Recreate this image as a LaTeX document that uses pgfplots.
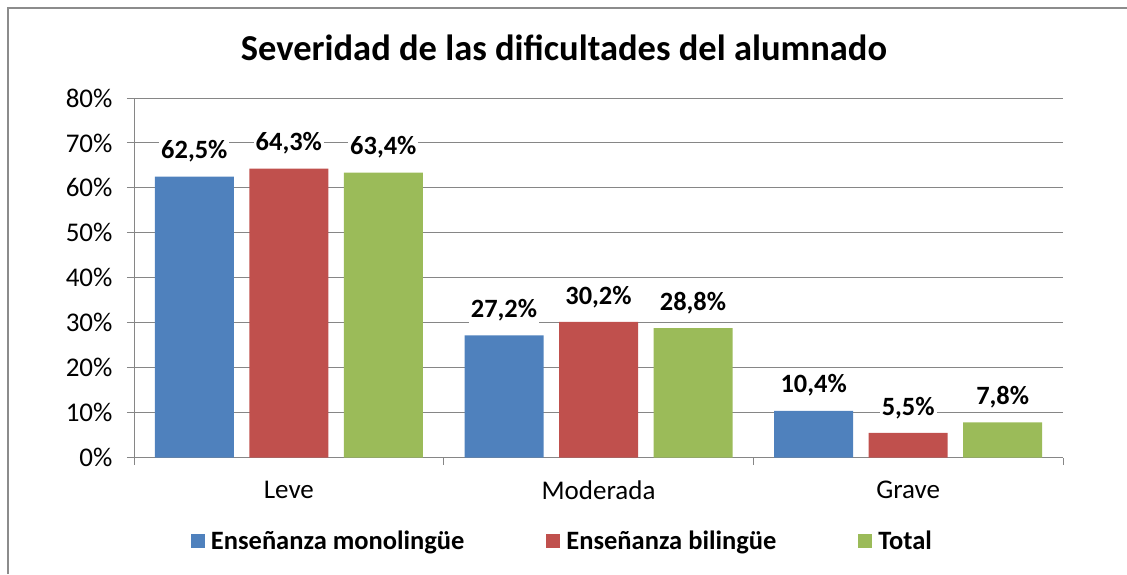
\documentclass[border=0pt]{standalone}
\usepackage{fontspec}
\setmainfont{Carlito}
\usepackage{pgfplots}
\pgfplotsset{compat=1.18}
\definecolor{xblue}{HTML}{4F81BD}
\definecolor{xred}{HTML}{C0504D}
\definecolor{xgreen}{HTML}{9BBB59}
\definecolor{gridgray}{RGB}{134,134,134}
\definecolor{framegray}{RGB}{140,140,140}

\begin{document}
\begin{tikzpicture}
\useasboundingbox (0,0) rectangle (1127pt,574pt);
\draw[line width=2.5pt, framegray] (8pt,0pt) -- (8pt,566pt) -- (1127pt,566pt);
\node[font=\fontsize{36.5}{42}\selectfont\bfseries] at (564pt,526pt) {Severidad de las dificultades del alumnado};
\begin{axis}[
    at={(134pt,116.5pt)}, anchor=south west,
    scale only axis, width=929pt, height=359.5pt,
    ybar=15.5pt, bar width=79pt,
    xmin=-0.5, xmax=2.5, ymin=0, ymax=80,
    xtick={0,1,2}, xticklabels={Leve,Moderada,Grave},
    minor xtick={-0.5,0.5,1.5,2.5},
    major x tick style={draw=none},
    ytick={0,10,...,80},
    yticklabel={\pgfmathprintnumber[assume math mode=true]{\tick}\%},
    ymajorgrids, grid style={gridgray, line width=1pt},
    axis x line*=bottom, axis y line*=left,
    axis line style={gridgray, line width=1pt},
    tick style={gridgray, line width=1pt},
    tick align=outside, major tick length=7pt, minor tick length=7pt,
    ticklabel style={font=\fontsize{27}{32}\selectfont, text=black},
    xticklabel style={yshift=-13pt},
    yticklabel style={xshift=-11pt},
    nodes near coords={\pgfmathprintnumber[fixed,fixed zerofill,precision=1,use comma,assume math mode=true]{\pgfplotspointmeta}\%},
    every node near coord/.append style={font=\fontsize{26.4}{30}\selectfont\bfseries, text=black, fill=white, inner sep=2pt, yshift=12pt},
    legend style={at={(0.4612,-0.232)}, anchor=center, draw=none, legend columns=3,
        font=\fontsize{26.5}{30}\selectfont\bfseries,
        /tikz/every even column/.append style={column sep=80pt}},
    legend image code/.code={\fill[#1] (0pt,-7pt) rectangle (14pt,7pt); \path (18pt,0pt);},
]
\addplot[fill=xblue, draw=none] coordinates {(0,62.5) (1,27.2) (2,10.4)};
\addplot[fill=xred, draw=none] coordinates {(0,64.3) (1,30.2) (2,5.5)};
\addplot[fill=xgreen, draw=none] coordinates {(0,63.4) (1,28.8) (2,7.8)};
\legend{Enseñanza monolingüe, Enseñanza bilingüe, Total}
\end{axis}
\end{tikzpicture}
\end{document}
